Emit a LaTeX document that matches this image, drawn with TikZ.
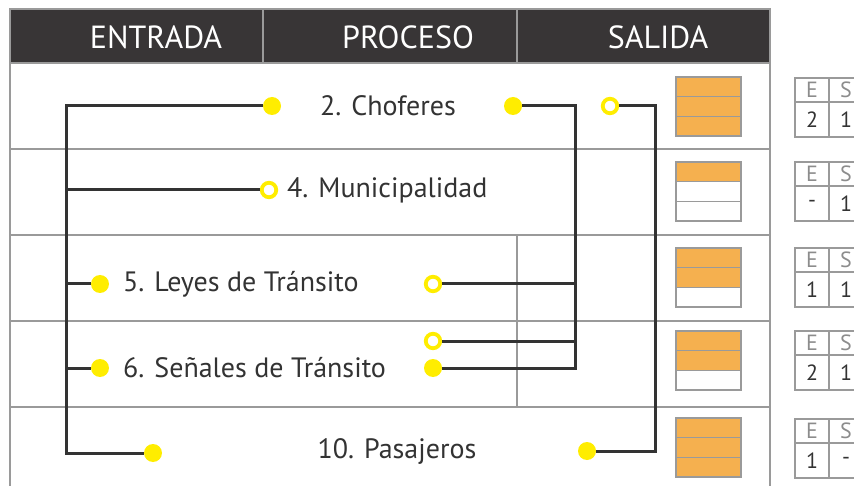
\documentclass[tikz,border=0pt]{standalone}
\usepackage{fontspec}
\setmainfont{PT Sans}
\definecolor{headfill}{HTML}{383536}
\definecolor{gridgray}{HTML}{9A9A9A}
\definecolor{textgray}{HTML}{333333}
\definecolor{lettergray}{HTML}{8C8C8C}
\definecolor{wiregray}{HTML}{333333}
\definecolor{dotyellow}{HTML}{FFED00}
\definecolor{lleno}{HTML}{F5B04F}
\colorlet{vacio}{white}

\begin{document}
\begin{tikzpicture}[x=1pt,y=-1pt]
   \tikzstyle{every node}=[font=\fontsize{28}{32}\selectfont, text=textgray]
   \tikzstyle{grid}=[draw=gridgray, line width=1.3pt]
   \tikzstyle{head}=[text=white, font=\fontsize{32}{36}\selectfont]
   \tikzstyle{item}=[anchor=west, inner sep=0pt]
   \tikzstyle{wire}=[draw=wiregray, line width=3pt]
   \tikzstyle{full}=[circle, fill=dotyellow, minimum size=18pt, inner sep=0pt]
   \tikzstyle{ring}=[circle, draw=dotyellow, fill=white, line width=3.8pt, minimum size=14.5pt, inner sep=0pt]
   \tikzstyle{bar}=[draw=gridgray, line width=1.5pt, minimum width=65pt, minimum height=19.7pt, inner sep=0pt]
   \tikzstyle{cell}=[draw=gridgray, line width=1.3pt, minimum width=34pt, inner sep=0pt, font=\fontsize{22}{24}\selectfont]

\useasboundingbox (0,0) rectangle (854,486);

\fill[headfill] (10,9) rectangle (770,63);
\draw[grid] (10,9) rectangle (770,63);
\draw[grid] (263,9) -- (263,63) (517,9) -- (517,63);
\draw[grid] (10,63) -- (10,495) (770,63) -- (770,495);
\draw[grid] (10,149) -- (770,149) (10,235) -- (770,235)
   (10,321) -- (770,321) (10,407) -- (770,407);
\draw[grid] (517,235) -- (517,407);

\node[head] (entrada) at (156,37) {ENTRADA};
\node[head] (proceso) at (408,37) {PROCESO};
\node[head] (salida) at (658,37) {SALIDA};

\node (choferes) at (388,106) {2. Choferes};
\node[item] (municipalidad) at (287,190) {4. Municipalidad};
\node[item] (leyes) at (123,284) {5. Leyes de Tránsito};
\node[item] (senales) at (123,368) {6. Señales de Tránsito};
\node (pasajeros) at (397,451) {10. Pasajeros};

\node[full] (ch-in) at (272,106) {};
\node[ring] (mu-in) at (269,190) {};
\node[full] (le-in) at (100,284) {};
\node[full] (se-in) at (100,368) {};
\node[full] (pa-in) at (153,453) {};
\node[full] (ch-out) at (513,106) {};
\node[ring] (ch-fb) at (610,106) {};
\node[ring] (le-out) at (433,284) {};
\node[ring] (se-fb) at (433,341) {};
\node[full] (se-out) at (433,368) {};
\node[full] (pa-out) at (587,451) {};

\coordinate (tl) at (66,106);
\coordinate (bl) at (66,453);
\coordinate (tr) at (575,106);
\coordinate (fr) at (655,106);

\draw[wire] (ch-in) -- (tl) -- (bl) -- (pa-in);
\draw[wire] (mu-in) -- (mu-in -| tl);
\draw[wire] (le-in) -- (le-in -| tl);
\draw[wire] (se-in) -- (se-in -| tl);
\draw[wire] (ch-out) -- (tr) |- (se-out);
\draw[wire] (le-out) -- (le-out -| tr);
\draw[wire] (se-fb) -- (se-fb -| tr);
\draw[wire] (ch-fb) -- (fr) |- (pa-out);

\foreach \t/\a/\b/\c in {77/lleno/lleno/lleno, 162/lleno/vacio/vacio,
   248/lleno/lleno/vacio, 331/lleno/lleno/vacio, 418/lleno/lleno/lleno} {
   \node[bar, fill=\a] (a\t) at (708.5,\t+9.85) {};
   \node[bar, fill=\b] (b\t) at (708.5,\t+29.55) {};
   \node[bar, fill=\c] (c\t) at (708.5,\t+49.25) {};
}

\foreach \t/\e/\s in {78/2/1, 162/-/1, 248/1/1, 331/2/1, 419/1/-} {
   \node[cell, minimum height=24pt, text=lettergray] (e\t) at (812,\t+12) {E};
   \node[cell, minimum height=24pt, text=lettergray] (s\t) at (846,\t+12) {S};
   \node[cell, minimum height=35pt] (ev\t) at (812,\t+41.5) {\e};
   \node[cell, minimum height=35pt] (sv\t) at (846,\t+41.5) {\s};
}

\end{tikzpicture}
\end{document}
